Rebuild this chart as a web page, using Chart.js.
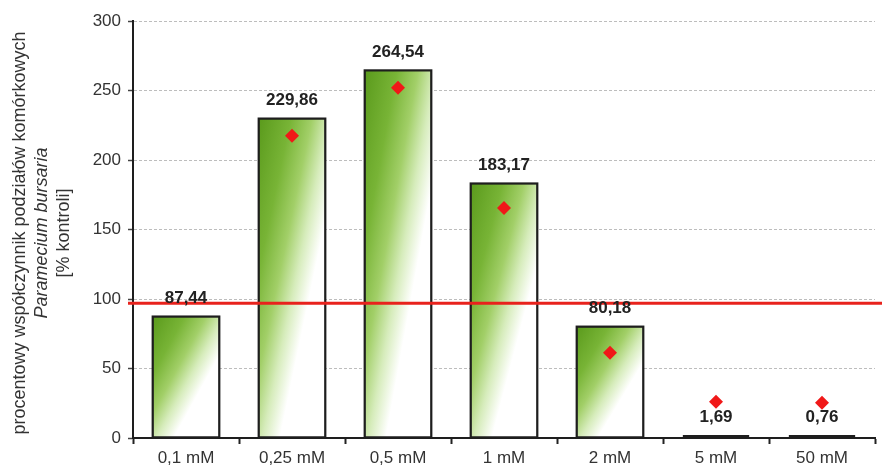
<!DOCTYPE html>
<html>
<head>
<meta charset="utf-8">
<script src="https://cdn.jsdelivr.net/npm/chart.js@4/dist/chart.umd.min.js"></script>
<style>
  html, body { margin: 0; padding: 0; background: #fff; }
  #wrap { width: 882px; height: 475px; }
</style>
</head>
<body>
<div id="wrap"><canvas id="c" width="882" height="475"></canvas></div>
<script>
// ---- data ----
const categories = ['0,1 mM', '0,25 mM', '0,5 mM', '1 mM', '2 mM', '5 mM', '50 mM'];
const barValues = [87.44, 229.86, 264.54, 183.17, 80.18, 1.69, 0.76];
const diamondValues = [null, 217.5, 252, 165.5, 61.4, 26.1, 25.4];
const controlValue = 97;
const yTicks = [0, 50, 100, 150, 200, 250, 300];
const yTitleLines = ['procentowy współczynnik podziałów komórkowych', 'Paramecium bursaria', '[% kontroli]'];

const FONT = "'Liberation Sans', Arial, Helvetica, sans-serif";

// Paint each bar with a diagonal (box-normalised) gradient, then redraw its outline.
const gradientBars = {
  id: 'gradientBars',
  afterDatasetDraw(chart, args) {
    if (args.index !== 0) return;
    const ctx = chart.ctx;
    args.meta.data.forEach(bar => {
      const w = bar.width;
      const x0 = bar.x - w / 2;
      const y0 = Math.min(bar.y, bar.base);
      const h = Math.abs(bar.base - bar.y);
      if (h < 4) return;
      const len = Math.sqrt(w * w + h * h);
      const L = 2 * w * h / len;
      const g = ctx.createLinearGradient(x0, y0, x0 + (h / len) * L, y0 + (w / len) * L);
      g.addColorStop(0, '#5a9a1c');
      g.addColorStop(0.24, '#78b436');
      g.addColorStop(0.4, '#a2cf68');
      g.addColorStop(0.53, '#d6ecbb');
      g.addColorStop(0.66, '#ffffff');
      g.addColorStop(1, '#ffffff');
      ctx.save();
      ctx.fillStyle = g;
      ctx.fillRect(x0 + 1, y0 + 1, w - 2, h - 2);
      ctx.strokeStyle = '#1e1e1e';
      ctx.lineWidth = 2;
      ctx.strokeRect(x0, y0, w, h);
      ctx.restore();
    });
  }
};

const controlLine = {
  id: 'controlLine',
  afterDatasetsDraw(chart) {
    const ctx = chart.ctx, y = chart.scales.y.getPixelForValue(controlValue);
    ctx.save();
    ctx.strokeStyle = '#e8221c';
    ctx.lineWidth = 3;
    ctx.beginPath();
    ctx.moveTo(chart.chartArea.left - 5, y);
    ctx.lineTo(chart.width, y);
    ctx.stroke();
    ctx.restore();
  }
};

const valueLabels = {
  id: 'valueLabels',
  afterDraw(chart) {
    const ctx = chart.ctx, meta = chart.getDatasetMeta(0);
    ctx.save();
    ctx.font = 'bold 17px ' + FONT;
    ctx.fillStyle = '#222';
    ctx.textAlign = 'center';
    ctx.textBaseline = 'middle';
    meta.data.forEach((bar, i) => {
      const txt = barValues[i].toFixed(2).replace('.', ',');
      ctx.fillText(txt, bar.x, bar.y - 18);
    });
    ctx.restore();
  }
};

const yTitle = {
  id: 'yTitle',
  afterDraw(chart) {
    const ctx = chart.ctx;
    const xs = [20, 42, 64];
    const cy = 233;
    ctx.save();
    ctx.fillStyle = '#333';
    ctx.textAlign = 'center';
    ctx.textBaseline = 'middle';
    yTitleLines.forEach((t, i) => {
      ctx.save();
      ctx.translate(xs[i], cy);
      ctx.rotate(-Math.PI / 2);
      ctx.font = (i === 1 ? 'italic ' : '') + '18px ' + FONT;
      ctx.fillText(t, 0, 0);
      ctx.restore();
    });
    ctx.restore();
  }
};

new Chart(document.getElementById('c'), {
  data: {
    labels: categories,
    datasets: [
      {
        type: 'bar',
        data: barValues,
        backgroundColor: '#ffffff',
        borderColor: '#1e1e1e',
        borderWidth: 2,
        borderSkipped: false,
        minBarLength: 3,
        barPercentage: 0.63,
        categoryPercentage: 1,
        order: 2
      },
      {
        type: 'line',
        data: diamondValues,
        showLine: false,
        pointStyle: 'rectRot',
        pointRadius: 7,
        pointBackgroundColor: '#f01818',
        pointBorderColor: '#f01818',
        pointBorderWidth: 0,
        order: 1
      }
    ]
  },
  options: {
    responsive: false,
    animation: false,
    events: [],
    layout: { padding: { top: 21, right: 0, bottom: 0, left: 0 } },
    plugins: { legend: { display: false }, tooltip: { enabled: false } },
    scales: {
      x: {
        offset: true,
        grid: {
          offset: true,
          drawOnChartArea: false,
          drawTicks: true,
          tickLength: 6,
          tickColor: '#222',
          tickWidth: 2
        },
        border: { color: '#1e1e1e', width: 2 },
        ticks: { color: '#333', font: { family: FONT, size: 17 }, padding: 4, maxRotation: 0 },
        afterFit(s) { s.height = 37; }
      },
      y: {
        min: 0, max: 300,
        afterBuildTicks(s) { s.ticks = yTicks.map(v => ({ value: v })); },
        grid: {
          color: '#bdbdbd',
          lineWidth: 1,
          tickLength: 5,
          tickColor: '#444',
          tickBorderDash: [],
          tickWidth: 1.5
        },
        border: { color: '#1e1e1e', width: 2, dash: [3, 2] },
        ticks: { color: '#333', font: { family: FONT, size: 17 }, padding: 7 },
        afterFit(s) { s.width = 133; }
      }
    }
  },
  plugins: [gradientBars, controlLine, valueLabels, yTitle]
});
</script>
</body>
</html>
